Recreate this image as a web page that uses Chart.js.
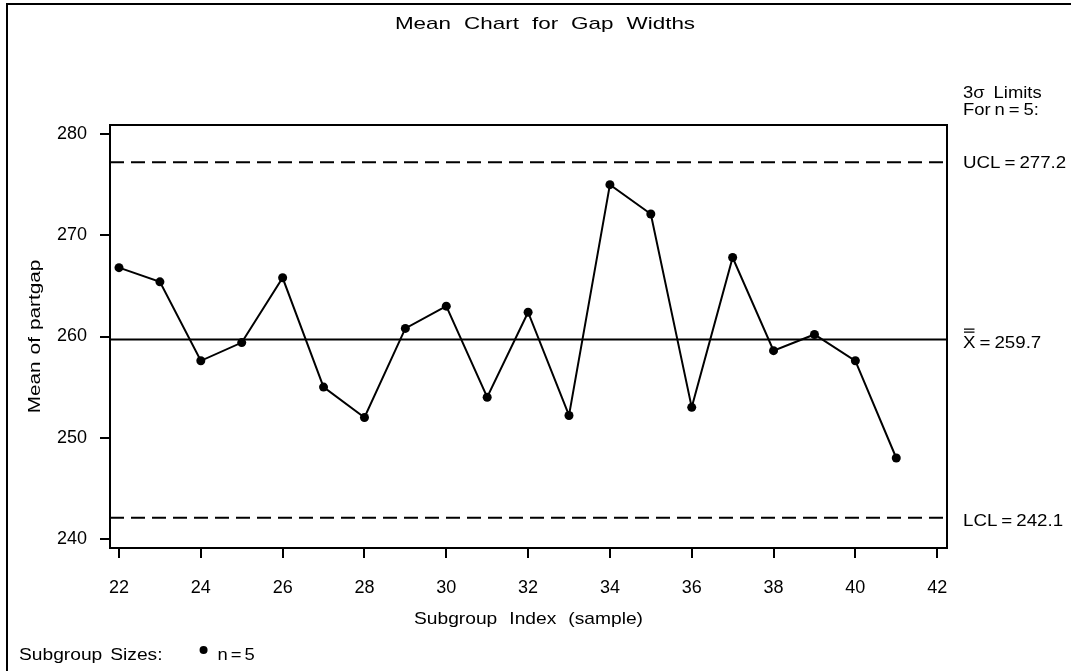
<!DOCTYPE html>
<html>
<head>
<meta charset="utf-8">
<script src="https://cdn.jsdelivr.net/npm/chart.js@4.4.1/dist/chart.umd.min.js"></script>
<style>
  html, body { margin: 0; padding: 0; background: #fff; }
  #wrap { width: 1071px; height: 671px; }
</style>
</head>
<body>
<div id="wrap"><canvas id="meanChart" width="1071" height="671"></canvas></div>
<script>
// ===== DATA =====
const subgroups = [22, 23, 24, 25, 26, 27, 28, 29, 30, 31, 32, 33, 34, 35, 36, 37, 38, 39, 40, 41];
const means = [266.8, 265.4, 257.6, 259.4, 265.8, 255.0, 252.0, 260.8, 263.0, 254.0,
               262.4, 252.2, 275.0, 272.1, 253.0, 267.8, 258.6, 260.2, 257.6, 248.0];
const xTicks = [22, 24, 26, 28, 30, 32, 34, 36, 38, 40, 42];
const yTicks = [240, 250, 260, 270, 280];
const xRange = [21.78, 42.24];
const yRange = [239.11, 280.89];
const ucl = 277.2;
const centerLine = 259.7;
const lcl = 242.1;

const FONT = '"Liberation Sans", Arial, sans-serif';

// text with a wider, SAS-like look: stretched glyphs and wide word gaps
function spacedText(ctx, str, x, y, opts) {
    const size = opts.size || 16, sx = opts.sx || 1.2, gap = opts.gap || 8;
    const align = opts.align || 'left';
    ctx.font = size + 'px ' + FONT;
    ctx.textAlign = 'left';
    ctx.textBaseline = 'alphabetic';
    const words = str.split(' ');
    const widths = words.map(w => ctx.measureText(w).width * sx);
    const total = widths.reduce((a, b) => a + b, 0) + gap * (words.length - 1);
    let cx = align === 'center' ? x - total / 2 : (align === 'right' ? x - total : x);
    words.forEach((w, i) => {
        ctx.save();
        ctx.translate(cx, y);
        ctx.scale(sx, 1);
        ctx.fillText(w, 0, 0);
        ctx.restore();
        cx += widths[i] + gap;
    });
    return cx - gap;
}

const limitLine = (value, dash) => ({
    data: [{ x: xRange[0], y: value }, { x: xRange[1], y: value }],
    borderColor: '#000',
    borderWidth: 2,
    borderDash: dash,
    pointRadius: 0,
    order: 2
});

const textPlugin = {
    id: 'sasText',
    afterDraw(chart) {
        const ctx = chart.ctx;
        const a = chart.chartArea;
        ctx.save();
        ctx.fillStyle = '#000';
        ctx.strokeStyle = '#000';

        // plot frame
        ctx.lineWidth = 2;
        ctx.strokeRect(a.left, a.top, a.right - a.left, a.bottom - a.top);

        // outer border (left + top)
        ctx.beginPath();
        ctx.moveTo(7, 671);
        ctx.lineTo(7, 4);
        ctx.lineTo(1071, 4);
        ctx.stroke();

        // title
        spacedText(ctx, 'Mean Chart for Gap Widths', 545, 29, { size: 17, sx: 1.32, gap: 13, align: 'center' });

        // axis titles
        spacedText(ctx, 'Subgroup Index (sample)', (a.left + a.right) / 2, 624, { size: 17, sx: 1.13, gap: 12, align: 'center' });
        ctx.save();
        ctx.translate(40, (a.top + a.bottom) / 2);
        ctx.rotate(-Math.PI / 2);
        spacedText(ctx, 'Mean of partgap', 0, 0, { size: 17, sx: 1.22, gap: 7, align: 'center' });
        ctx.restore();

        // limit labels
        const lx = 963;
        const yScale = chart.scales.y;
        spacedText(ctx, '3\u03c3 Limits', lx, 98, { sx: 1.15, gap: 9 });
        spacedText(ctx, 'For n = 5:', lx, 115, { sx: 1.15, gap: 4 });
        spacedText(ctx, 'UCL = 277.2', lx, yScale.getPixelForValue(ucl) + 6, { sx: 1.17, gap: 4 });
        spacedText(ctx, 'LCL = 242.1', lx, yScale.getPixelForValue(lcl) + 8, { sx: 1.17, gap: 4 });
        const cy = yScale.getPixelForValue(centerLine) + 8;
        const xEnd = spacedText(ctx, 'X', lx, cy, { sx: 1.17, gap: 4 });
        ctx.lineWidth = 1.2;
        ctx.beginPath();
        ctx.moveTo(lx + 1, cy - 15.5); ctx.lineTo(xEnd - 1, cy - 15.5);
        ctx.moveTo(lx + 1, cy - 18.5); ctx.lineTo(xEnd - 1, cy - 18.5);
        ctx.stroke();
        spacedText(ctx, '= 259.7', xEnd + 4, cy, { sx: 1.17, gap: 4 });

        // subgroup sizes legend
        const end = spacedText(ctx, 'Subgroup Sizes:', 19, 660, { sx: 1.2, gap: 8 });
        ctx.beginPath();
        ctx.arc(end + 41, 650, 4, 0, Math.PI * 2);
        ctx.fill();
        spacedText(ctx, 'n = 5', end + 55, 660, { sx: 1.15, gap: 3 });

        ctx.restore();
    }
};

// ===== MEAN CHART =====
const ctx = document.getElementById('meanChart');
new Chart(ctx, {
    type: 'line',
    data: {
        datasets: [
            {
                data: subgroups.map((s, i) => ({ x: s, y: means[i] })),
                borderColor: '#000',
                borderWidth: 2,
                pointRadius: 4.5,
                pointBorderWidth: 0,
                pointBackgroundColor: '#000',
                tension: 0,
                order: 1
            },
            limitLine(ucl, [14, 7]),
            limitLine(centerLine, []),
            limitLine(lcl, [14, 7])
        ]
    },
    options: {
        responsive: false,
        animation: false,
        devicePixelRatio: 1,
        layout: { padding: { left: 0, top: 125, right: 124, bottom: 0 } },
        plugins: {
            legend: { display: false },
            tooltip: { enabled: false }
        },
        scales: {
            x: {
                type: 'linear',
                min: xRange[0],
                max: xRange[1],
                afterBuildTicks: s => { s.ticks = xTicks.map(v => ({ value: v })); },
                afterFit: s => { s.height = 123; },
                grid: { drawOnChartArea: false, drawTicks: true, tickLength: 10, color: '#000', lineWidth: 2 },
                border: { display: true, color: '#000', width: 2 },
                ticks: { color: '#000', padding: 19, maxRotation: 0, autoSkip: false, font: { family: FONT, size: 18 } }
            },
            y: {
                min: yRange[0],
                max: yRange[1],
                afterBuildTicks: s => { s.ticks = yTicks.map(v => ({ value: v })); },
                afterFit: s => { s.width = 110; },
                grid: { drawOnChartArea: false, drawTicks: true, tickLength: 10, color: '#000', lineWidth: 2 },
                border: { display: true, color: '#000', width: 2 },
                ticks: { color: '#000', padding: 13, font: { family: FONT, size: 18 } }
            }
        }
    },
    plugins: [textPlugin]
});
</script>
</body>
</html>
